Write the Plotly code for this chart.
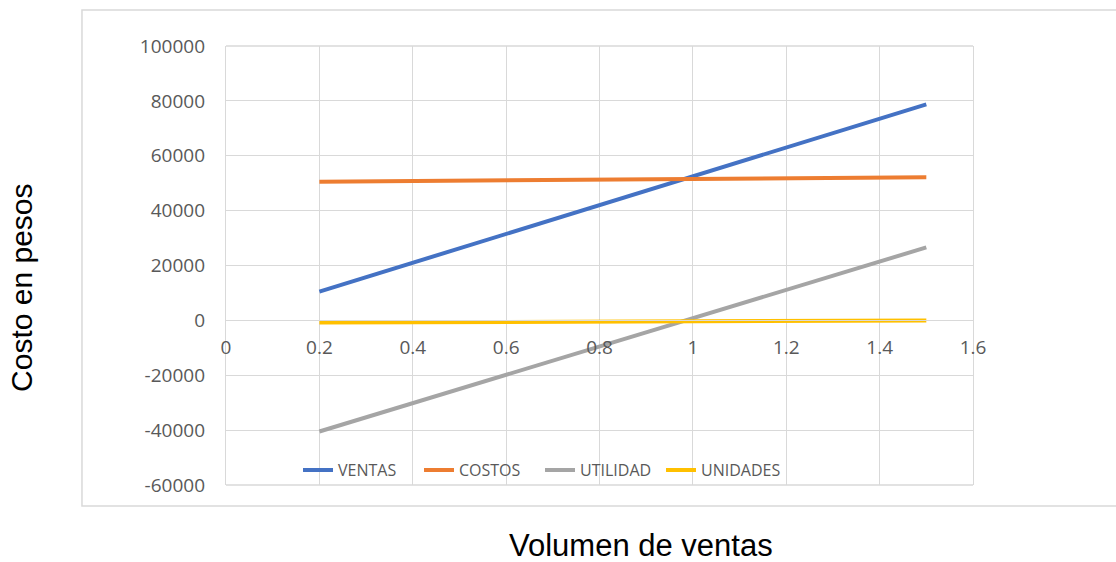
import plotly.graph_objects as go

# Break-even chart: sales, costs, profit and units against sales volume
volumen = [0.2, 1.5]
ventas = [10500, 78750]
costos = [50500, 52200]
utilidad = [-40500, 26600]
unidades = [-800, 0]

series = [
    ("VENTAS", ventas, "#4472C4"),
    ("COSTOS", costos, "#ED7D31"),
    ("UTILIDAD", utilidad, "#A5A5A5"),
    ("UNIDADES", unidades, "#FFC000"),
]

x_ticks = [0, 0.2, 0.4, 0.6, 0.8, 1, 1.2, 1.4, 1.6]
x_labels = ["0", "0.2", "0.4", "0.6", "0.8", "1", "1.2", "1.4", "1.6"]
y_ticks = [-60000, -40000, -20000, 0, 20000, 40000, 60000, 80000, 100000]
y_labels = [str(v) for v in y_ticks]

GRID = "#D9D9D9"
TICK_FONT = dict(family="Open Sans", size=19, color="#595959")

fig = go.Figure()
for name, values, color in series:
    fig.add_trace(go.Scatter(
        x=volumen, y=values, name=name, mode="lines",
        line=dict(color=color, width=4),
    ))

# top and bottom edges of the plotting area (gridlines at 100000 and -60000)
edge_lines = [
    dict(type="line", xref="paper", yref="paper", x0=0, x1=1, y0=yy, y1=yy,
         line=dict(color=GRID, width=1.3), layer="below")
    for yy in (0, 1)
]

fig.update_layout(
    width=1116, height=562,
    margin=dict(l=226, r=143, t=46, b=77),
    paper_bgcolor="white", plot_bgcolor="white",
    showlegend=True,
    legend=dict(
        orientation="h", x=0.0964, xanchor="left", y=0.034, yanchor="middle",
        entrywidth=76, entrywidthmode="pixels",
        font=dict(family="Open Sans", size=16, color="#595959"),
        bgcolor="rgba(255,255,255,0)", itemclick=False,
    ),
    xaxis=dict(
        range=[0, 1.6], tickvals=x_ticks, ticktext=x_labels,
        showgrid=True, gridcolor=GRID, gridwidth=1.3,
        zeroline=False, showline=True, linecolor=GRID, linewidth=1.3,
        anchor="free", position=0.375,
        ticks="", ticklabelstandoff=10, tickfont=TICK_FONT,
    ),
    yaxis=dict(
        range=[-60000, 100000], tickvals=y_ticks, ticktext=y_labels,
        showgrid=True, gridcolor=GRID, gridwidth=1.3,
        zeroline=False, showline=True, mirror=True, linecolor=GRID, linewidth=1.3,
        ticks="", ticklabelstandoff=16, tickfont=TICK_FONT,
    ),
    shapes=[dict(
        type="rect", xref="paper", yref="paper",
        x0=-0.1928, x1=1.2, y0=-0.0478, y1=1.082,
        line=dict(color=GRID, width=1.5), fillcolor="rgba(0,0,0,0)", layer="below",
    )] + edge_lines,
    annotations=[
        dict(text="Costo en pesos", xref="paper", yref="paper", x=-0.273, y=0.449,
             textangle=-90, showarrow=False, xanchor="center", yanchor="middle",
             font=dict(family="Liberation Sans", size=30, color="black")),
        dict(text="Volumen de ventas", xref="paper", yref="paper", x=0.556, y=-0.1822,
             showarrow=False, xanchor="center", yanchor="bottom",
             font=dict(family="Liberation Sans", size=31, color="black")),
    ],
)

fig.write_html("out.html")
